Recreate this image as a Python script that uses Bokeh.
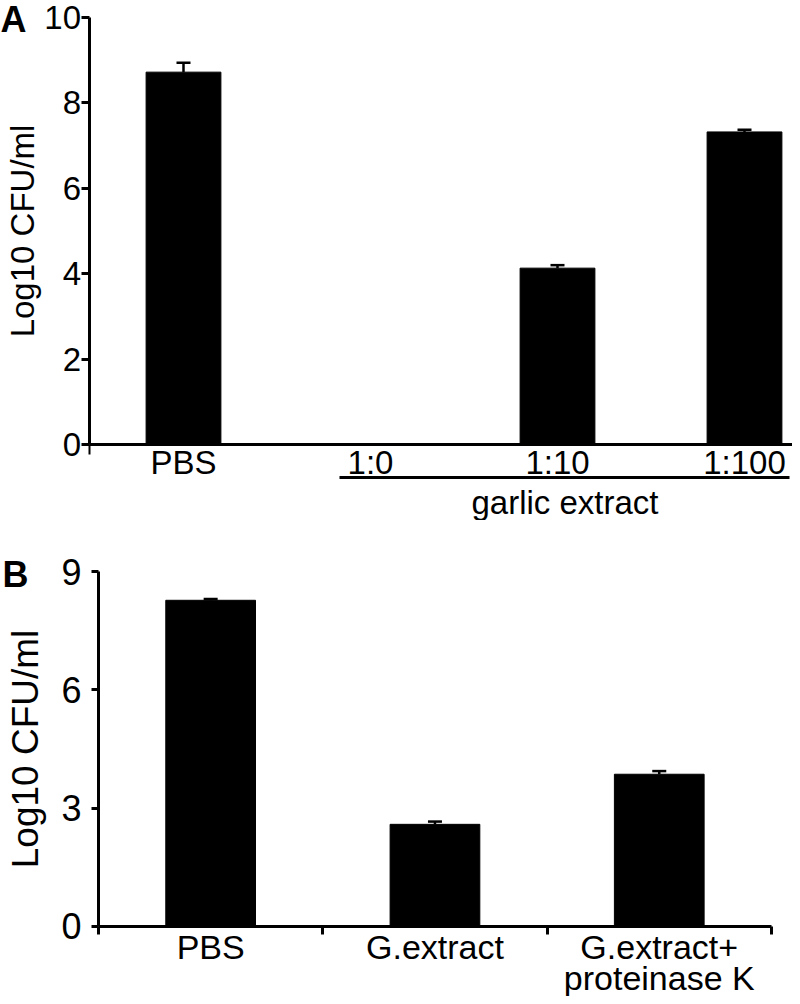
from bokeh.plotting import figure
from bokeh.models import (Range1d, LinearAxis, FixedTicker, Whisker, TeeHead,
                          ColumnDataSource)
from bokeh.core.properties import value
from bokeh.layouts import column
from bokeh.embed import file_html
from bokeh.resources import INLINE

FONT = "Liberation Sans"

# ---------------- data ----------------
a_categories = ["PBS", "1:0", "1:10", "1:100"]
a_values = [8.72, 0.0, 4.13, 7.32]
a_errors = [0.22, 0.0, 0.07, 0.05]
a_group_label = "garlic extract"
a_group_members = ["1:0", "1:10", "1:100"]
a_yticks = [0, 2, 4, 6, 8, 10]

b_categories = ["PBS", "G.extract", "G.extract+\nproteinase K"]
b_values = [8.27, 2.59, 3.86]
b_errors = [0.03, 0.07, 0.08]
b_yticks = [0, 3, 6, 9]

y_title = "Log10 CFU/ml"
panel_letters = ["A", "B"]


def style_axis(ax, size):
    ax.axis_line_width = 3
    ax.axis_line_color = "black"
    ax.major_tick_line_width = 3
    ax.minor_tick_line_width = 3
    ax.major_label_text_font = FONT
    ax.major_label_text_font_size = f"{size}px"
    ax.major_label_text_color = "black"
    ax.axis_label_text_font = FONT
    ax.axis_label_text_font_style = "normal"
    ax.axis_label_text_color = "black"


def letter(p, x, y, t):
    p.text(x=[x], y=[y], text=[t], text_font=value(FONT),
           text_font_size="36px", text_font_style="bold",
           text_align="left", text_baseline="middle", text_color="black")


# ---------------- panel A ----------------
ax_pos = list(range(len(a_categories)))
pa = figure(width=792, height=520,
            x_range=Range1d(-0.9786, 3.2567), y_range=Range1d(-1.780, 10.398),
            x_axis_type=None, y_axis_type=None,
            output_backend="svg", toolbar_location=None,
            min_border=0, outline_line_color=None)

pa.vbar(x=ax_pos, top=a_values, width=0.4, fill_color="black",
        line_color="black")
wa = [i for i in ax_pos if a_errors[i] > 0]
src_a = ColumnDataSource(dict(x=[ax_pos[i] for i in wa],
                              lower=[a_values[i] for i in wa],
                              upper=[a_values[i] + a_errors[i] for i in wa]))
pa.add_layout(Whisker(base="x", lower="lower", upper="upper", source=src_a,
                      upper_head=TeeHead(size=14, line_width=2.5),
                      lower_head=None, line_width=2.5, level="overlay"))

ya = LinearAxis(ticker=FixedTicker(ticks=a_yticks), axis_label=y_title,
                fixed_location=-0.5, bounds=(a_yticks[0], a_yticks[-1]))
style_axis(ya, 33)
ya.major_tick_out = 8
ya.major_tick_in = 0
ya.major_label_standoff = 1
ya.axis_label_text_font_size = "33px"
ya.axis_label_standoff = 0
pa.add_layout(ya, "left")

xa = LinearAxis(ticker=FixedTicker(ticks=ax_pos, minor_ticks=[-0.5]),
                major_label_overrides={i: c for i, c in zip(ax_pos, a_categories)},
                fixed_location=0, bounds=(-0.5, 3.2567))
style_axis(xa, 33)
xa.major_tick_out = 0
xa.major_tick_in = 0
xa.minor_tick_out = 10
xa.minor_tick_in = 0
xa.minor_tick_line_width = 2
xa.major_label_standoff = -10
pa.add_layout(xa, "below")

grp = [ax_pos[a_categories.index(c)] for c in a_group_members]
g_lo, g_hi = grp[0] - 0.166, grp[-1] + 0.24
g_mid = round((g_lo + g_hi) / 2, 2)
xg = LinearAxis(ticker=FixedTicker(ticks=[g_mid], minor_ticks=[]),
                bounds=(g_lo, g_hi), fixed_location=-0.78,
                major_label_overrides={g_mid: a_group_label})
style_axis(xg, 33)
xg.major_tick_out = 0
xg.major_tick_in = 0
xg.major_label_standoff = 6
pa.add_layout(xg, "below")

letter(pa, -0.9786, 9.953, panel_letters[0])

# ---------------- panel B ----------------
bx_pos = [i + 1 for i in range(len(b_categories))]
pb = figure(width=792, height=476,
            x_range=Range1d(0.0631, 3.594), y_range=Range1d(-1.775, 10.293),
            x_axis_type=None, y_axis_type=None,
            output_backend="svg", toolbar_location=None,
            min_border=0, outline_line_color=None)

pb.vbar(x=bx_pos, top=b_values, width=0.4, fill_color="black",
        line_color="black")
src_b = ColumnDataSource(dict(x=bx_pos, lower=b_values,
                              upper=[v + e for v, e in zip(b_values, b_errors)]))
pb.add_layout(Whisker(base="x", lower="lower", upper="upper", source=src_b,
                      upper_head=TeeHead(size=14, line_width=2.5),
                      lower_head=None, line_width=2.5, level="overlay"))

yb = LinearAxis(ticker=FixedTicker(ticks=b_yticks), axis_label=y_title,
                fixed_location=0.5, bounds=(b_yticks[0], b_yticks[-1]))
style_axis(yb, 36)
yb.major_tick_out = 7
yb.major_tick_in = 0
yb.major_label_standoff = 10
yb.axis_label_text_font_size = "37px"
yb.axis_label_standoff = 12
pb.add_layout(yb, "left")

b_bounds = [p - 0.5 for p in bx_pos] + [bx_pos[-1] + 0.5]
xb = LinearAxis(ticker=FixedTicker(ticks=bx_pos, minor_ticks=b_bounds),
                major_label_overrides={p: c for p, c in zip(bx_pos, b_categories)},
                fixed_location=0, bounds=(b_bounds[0], b_bounds[-1]))
style_axis(xb, 34)
xb.major_tick_out = 0
xb.major_tick_in = 0
xb.minor_tick_out = 8
xb.minor_tick_in = 0
xb.major_label_standoff = -6
xb.major_label_text_line_height = 0.8
pb.add_layout(xb, "below")

letter(pb, 0.072, 8.924, panel_letters[1])

layout = column(pa, pb, spacing=0)
open("out.html", "w").write(file_html(layout, INLINE))
